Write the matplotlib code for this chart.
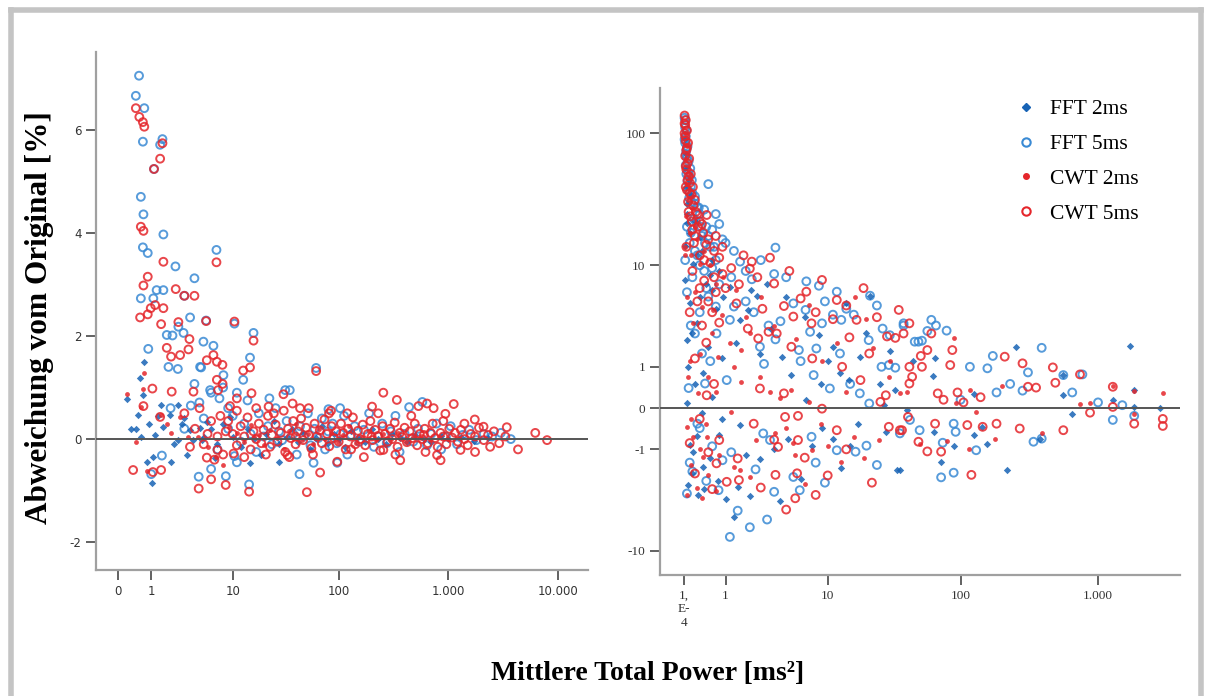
import numpy as np
import matplotlib
matplotlib.use("Agg")
import matplotlib.pyplot as plt
from matplotlib.lines import Line2D

# ---- data: (Mittlere Total Power, Abweichung) pairs ----
# left panel: linear y in %
left_fft5 = [
    (0.55, 7.05), (0.45, 6.66), (0.73, 6.42), (0.68, 5.77), (1.53, 5.82), (1.41, 5.71),
    (1.12, 5.24), (0.61, 4.70), (0.70, 4.36), (1.58, 3.97), (0.68, 3.72), (0.86, 3.61),
    (6.83, 3.67), (2.32, 3.35), (3.94, 3.12), (1.24, 2.89), (1.58, 2.89), (1.09, 2.73),
    (0.61, 2.73), (3.0, 2.78), (3.51, 2.36), (10.4, 2.24), (16, 2.06), (1.77, 2.02),
    (2.12, 2.01), (2.53, 2.18), (2.93, 2.06), (4.96, 1.89), (6.35, 1.81), (14.8, 1.58),
    (12.7, 1.15), (4.56, 1.40), (1.87, 1.40), (2.49, 1.36), (0.88, 1.75), (5.3, 2.30),
    (4.68, 1.39), (8.06, 1.24), (3.94, 1.07), (5.86, 0.95), (7.34, 0.79), (11, 0.90),
    (22.7, 0.79), (32, 0.95), (35.3, 0.95), (62, 1.38), (80.6, 0.58), (103, 0.60),
    (3.58, 0.65), (4.48, 0.71), (1.5, -0.32), (4.4, -0.73), (6, -0.58), (8.53, -0.72),
    (14.5, -0.88), (10.4, -0.33), (43.5, -0.68), (58.7, -0.46), (97, -0.46), (1.0, -0.68),
    (5, 0.4), (7, -0.2), (9, 0.6), (11, -0.45), (14, 0.75), (3, 0.2), (2, 0.6), (6, 0.9),
    (8, 1.0),
    (9, 0.2), (10, 0.45), (12, -0.05), (13, 0.3), (15, 0.1), (17, -0.25), (18, 0.5),
    (20, 0.05), (22, 0.25), (24, -0.1), (26, 0.6), (28, 0.15), (30, -0.02), (33, 0.35),
    (38, 0.1), (41, -0.3), (44, 0.25), (48, 0.05), (52, 0.5), (55, -0.12), (60, 0.2),
    (65, 0.02), (70, 0.4), (75, -0.2), (80, 0.15), (88, 0.3), (96, -0.08), (104, 0.1),
    (112, 0.45), (120, -0.3), (130, 0.08), (140, 0.25), (155, -0.05), (170, 0.18),
    (190, 0.5), (210, -0.15), (230, 0.05), (250, 0.3), (275, -0.08), (300, 0.15),
    (330, 0.45), (360, -0.25), (400, 0.1), (440, 0.62), (480, -0.05), (530, 0.2),
    (580, 0.72), (640, -0.12), (700, 0.1), (780, 0.3), (860, -0.2), (950, 0.05),
    (1050, 0.25), (1200, -0.1), (1350, 0.08), (1550, 0.18), (1800, -0.02), (2100, 0.1),
    (2500, 0.05), (3000, 0.12), (3700, 0.0),
]
left_cwt5 = [
    (0.45, 6.42), (0.56, 6.25), (0.68, 6.15), (0.73, 6.06), (1.53, 5.74), (1.41, 5.44),
    (1.12, 5.24), (0.61, 4.12), (0.70, 4.04), (6.83, 3.43), (1.58, 3.44), (0.86, 3.15),
    (0.70, 2.98), (2.34, 2.91), (3.0, 2.78), (3.94, 2.78), (1.17, 2.60), (0.98, 2.54),
    (0.86, 2.42), (0.585, 2.36), (1.58, 2.54), (1.46, 2.23), (2.53, 2.27), (5.31, 2.29),
    (10.4, 2.28), (16, 1.91), (3.45, 1.94), (1.77, 1.77), (2.03, 1.60), (2.66, 1.63),
    (3.36, 1.74), (5.4, 1.53), (6.35, 1.63), (6.9, 1.50), (7.87, 1.44), (12.7, 1.33),
    (62, 1.32), (3.84, 0.92), (6.9, 1.15), (7.9, 1.07), (7.1, 0.95), (14.8, 1.39),
    (15.3, 0.89), (11, 0.79), (2.07, 0.92), (1.05, 0.98), (0.7, 0.64), (1.41, 0.43),
    (9.4, 0.64), (22.3, 0.63), (30.8, 0.87), (37.5, 0.69), (52.9, 0.6), (81.6, 0.5),
    (1.46, -0.6), (4.4, -0.96), (6, -0.78), (8.5, -0.89), (14.5, -1.02), (5.4, -0.36),
    (7.0, -0.21), (10.2, -0.28), (33.6, -0.31), (50.9, -1.03), (67.5, -0.65), (97, -0.44),
    (1.07, -0.64), (0.37, -0.6),
    (256, 0.90), (340, 0.76), (640, 0.69), (1120, 0.68), (202, 0.63), (535, 0.64),
    (735, 0.60), (940, 0.49), (1740, 0.38), (2090, 0.24), (3400, 0.23), (6170, 0.12),
    (7900, -0.02), (4300, -0.2), (1750, -0.25), (1290, -0.21), (850, -0.41), (790, -0.31),
    (365, -0.41), (256, -0.21),
    (3, 0.5), (4, 0.2), (5, -0.1), (6, 0.35), (7, 0.05), (8, -0.3), (3.5, -0.15),
    (4.5, 0.6), (5.5, 0.1), (6.5, -0.4), (7.5, 0.45), (8.5, 0.15), (11, 0.55), (13, -0.35),
    (17, 0.6), (21, -0.3), (25, 0.5), (35, -0.35), (44, 0.6), (58, -0.3), (85, 0.55),
    (120, 0.5), (170, -0.35), (230, 0.5), (330, -0.3), (460, 0.45), (620, -0.25),
    (900, 0.35), (1400, 0.3), (2400, -0.15), (200, 0.05), (600, 0.08), (40, 0.05),
    (130, -0.2),
    (9, 0.35), (10, 0.1), (11, -0.12), (12, 0.25), (13, 0.05), (14, 0.42), (15, -0.2),
    (16, 0.15), (17, 0.0), (18, 0.3), (19, -0.08), (20, 0.18), (22, 0.45), (23, -0.15),
    (24, 0.08), (26, 0.28), (27, -0.05), (29, 0.12), (31, 0.55), (32, -0.25), (34, 0.2),
    (36, 0.02), (38, 0.35), (40, -0.1), (42, 0.15), (45, 0.4), (47, -0.02), (50, 0.22),
    (53, 0.08), (56, -0.18), (60, 0.3), (63, 0.05), (67, 0.17), (70, -0.08), (74, 0.38),
    (78, 0.1), (82, -0.14), (86, 0.25), (90, 0.02), (95, 0.15), (100, -0.05), (105, 0.3),
    (110, 0.12), (116, -0.2), (122, 0.2), (128, 0.05), (135, 0.42), (142, -0.1),
    (150, 0.16), (158, 0.0), (166, 0.28), (175, -0.12), (185, 0.1), (195, 0.35),
    (205, -0.02), (215, 0.18), (228, 0.06), (240, -0.22), (252, 0.25), (265, 0.1),
    (280, -0.05), (295, 0.2), (310, 0.0), (325, 0.32), (345, -0.15), (362, 0.12),
    (380, 0.04), (400, 0.22), (420, -0.06), (445, 0.15), (470, 0.02), (495, 0.3),
    (520, -0.12), (550, 0.1), (580, 0.0), (610, 0.2), (650, -0.08), (690, 0.12),
    (720, 0.3), (760, 0.02), (800, -0.15), (850, 0.12), (900, 0.05), (960, -0.1),
    (1020, 0.2), (1080, 0.03), (1150, 0.12), (1220, -0.05), (1300, 0.18), (1400, 0.0),
    (1500, -0.12), (1600, 0.1), (1750, 0.05), (1900, 0.22), (2100, -0.02), (2300, 0.08),
    (2600, 0.15), (2900, -0.08), (3300, 0.05),
]
left_fft2 = [
    (0.215, 0.78), (0.73, 1.50), (0.585, 1.18), (0.7, 0.85), (0.53, 0.47), (0.45, 0.19),
    (1.46, 0.66), (2.49, 0.67), (1.58, 0.24), (1.17, 0.08), (1.09, -0.34), (0.85, -0.45),
    (1.05, -0.85), (2.53, -0.02), (3.84, -0.02), (4.56, 0.21), (6.6, -0.37), (14.8, -0.46),
    (4.77, -0.02), (9.4, 0.43), (5.4, 0.34), (28, -0.44), (2.8, 0.3), (1.97, 0.47),
    (3.51, 0.17), (0.3, 0.2), (0.6, 0.05), (0.9, 0.3), (1.3, 0.45), (2.2, -0.1), (3, 0.4),
    (5, 0.05), (6, 0.2), (7, -0.1), (8, 0.3), (3.2, -0.3), (2, -0.45),
    (10, 0.05), (12, -0.15), (14, 0.2), (16, 0.0), (19, -0.3), (21, 0.1),
    (25, 0.35), (28, -0.1), (33, 0.05), (37, 0.2), (42, -0.05), (47, 0.12), (55, -0.2),
    (62, 0.02), (70, 0.25), (80, -0.08), (90, 0.1), (100, 0.0), (115, -0.15), (130, 0.15),
    (150, 0.05), (175, -0.05), (200, 0.2), (230, 0.0), (270, -0.1), (310, 0.1),
    (360, 0.02), (420, -0.05), (500, 0.08), (600, 0.0), (700, -0.05), (850, 0.06),
    (1000, 0.0), (1300, 0.04), (1700, -0.03), (2300, 0.02),
]
left_cwt2 = [
    (0.215, 0.87), (0.73, 1.28), (0.7, 0.98), (0.46, -0.05), (0.85, -0.62), (0.61, 0.63),
    (1.44, 0.47), (1.77, 0.3), (2.66, 0.43), (3.3, 0.04), (4.3, 0.04), (6.8, -0.34),
    (7.9, -0.5), (5.6, -0.15), (2.03, 0.12), (9.1, 0.24), (16, 0.04),
    (11, 0.12), (13, -0.05), (15, 0.28), (18, 0.08), (20, -0.12), (23, 0.18), (27, 0.02),
    (31, -0.2), (35, 0.15), (40, 0.3), (46, -0.02), (52, 0.1), (58, -0.1), (66, 0.2),
    (75, 0.0), (85, 0.12), (98, -0.05), (110, 0.08), (125, 0.25), (145, -0.08),
    (165, 0.05), (190, 0.15), (220, -0.02), (255, 0.1), (300, 0.0), (350, 0.12),
    (410, -0.05), (480, 0.05), (560, 0.02), (680, -0.02), (820, 0.05), (1000, 0.0),
    (1250, 0.03),
]

# right panel: signed log y
right_fft5 = [
    (0.01, 130), (0.02, 110), (0.03, 95), (0.02, 85), (0.04, 75), (0.05, 66), (0.03, 58),
    (0.07, 52), (0.1, 48), (0.06, 44), (0.12, 40), (0.5, 42), (0.15, 36), (0.09, 33),
    (0.2, 30), (0.25, 28), (0.4, 27), (0.3, 25), (0.7, 25), (0.18, 23), (0.8, 21),
    (0.45, 20), (0.6, 19), (0.35, 17), (0.9, 16), (1.0, 15), (0.55, 14), (1.3, 13),
    (0.25, 12), (0.7, 11), (1.55, 10.7), (3.6, 13.8), (2.1, 7.7), (3.5, 8.5), (6.7, 7.4),
    (1.2, 8), (0.4, 9), (0.8, 7), (0.05, 20), (0.1, 15), (0.02, 11),
    (0.02, 125), (0.04, 105), (0.01, 90), (0.06, 80), (0.03, 70), (0.08, 62), (0.11, 55),
    (0.04, 50), (0.14, 45), (0.07, 38), (0.2, 34), (0.13, 31), (0.28, 28), (0.22, 22),
    (0.33, 20), (0.12, 18), (0.5, 17), (0.42, 15), (0.65, 14), (0.2, 13), (0.3, 10),
    (0.6, 9.5), (0.15, 8), (0.05, 6), (0.45, 6.5), (0.7, 4.5), (0.12, 3), (0.35, 1.5),
    (0.55, 1.2), (0.08, 0.4), (0.25, -0.3), (0.6, -0.9), (0.15, -1.9), (0.45, -2.4),
    (0.05, -3.2), (0.9, -1.4),
    (1.8, 9), (2.6, 11), (4.5, 8), (8.5, 6.8), (1.3, 4.5), (2.2, 4.0), (4.0, 3.3),
    (7.2, 2.6), (9.5, 5.0), (16, 3.8), (24, 4.6), (30, 2.4), (2.8, 1.1), (6, 1.2),
    (15, 0.5), (1.2, -1.1), (2.3, -1.8), (8, -1.5), (9.5, -2.5), (24, -1.6), (3, -5.5),
    (2, -6.4),
    (11.8, 6.06), (21.3, 5.6), (5.2, 4.8), (14, 4.3), (26.5, 2.8), (38, 3.15), (49, 2.05),
    (6.6, 4.2), (9, 3.15), (12.8, 3.4), (20.8, 2.13), (11, 3.8), (3.6, 2.17), (3.1, 3.0),
    (5.8, 1.65), (8.1, 1.72), (12.5, 1.5), (2.55, 1.8), (1.15, 3.4), (0.72, 2.5),
    (0.42, 0.51), (1.04, 0.6), (7.7, 0.74), (10.4, 0.39), (17.8, 0.28), (21, 0.08),
    (26, 1.0), (29.5, 1.06), (33, 0.97), (0.3, 4), (0.5, 5.5), (0.2, 2.5), (1.8, 5),
    (2.75, -0.53), (3.2, -0.71), (7.4, -0.62), (11.8, -1.03), (16.5, -1.08), (20, -0.88),
    (0.78, -2.97), (1.15, -7.7), (1.45, -4.6), (3.5, -3.08), (5.9, -2.97), (5.2, -2.18),
    (35.7, -0.53), (42.4, -0.22), (0.3, -0.4), (0.1, -1.5),
    (46, 2.05), (38, 3.0), (61, 3.4), (66, 3.0), (79, 2.67), (57, 2.65), (52, 2.1),
    (390, 1.75), (172, 1.4), (117, 1.0), (157, 0.95), (310, 0.82), (560, 0.74), (770, 0.76),
    (183, 0.3), (283, 0.34), (89, -0.3), (92, -0.49), (74, -0.79), (130, -1.03), (72, -2.2),
    (89, -1.96), (340, -0.76), (390, -0.67), (1280, -0.22), (1830, -0.14), (50, -0.45),
    (100, 0.15), (230, 0.5), (650, 0.3), (1000, 0.1), (1500, 0.05),
]
right_cwt5 = [
    (0.01, 135), (0.02, 115), (0.01, 100), (0.03, 88), (0.05, 78), (0.02, 68), (0.06, 60),
    (0.04, 54), (0.08, 48), (0.1, 43), (0.05, 38), (0.13, 35), (0.07, 31), (0.17, 29),
    (0.22, 26), (0.11, 24), (0.3, 22), (0.26, 20), (0.38, 18), (0.2, 17), (0.5, 16),
    (0.45, 14.5), (0.65, 13), (0.3, 12), (0.8, 11.5), (0.55, 10.5), (1.2, 9.5), (0.9, 8.5),
    (2.0, 9.4), (0.4, 7.5), (1.5, 7), (0.7, 6), (0.25, 5), (0.6, 4), (0.35, 3),
    (0.46, 24.6), (0.03, 40), (0.08, 26), (0.15, 19), (0.04, 14),
    (0.03, 125), (0.01, 118), (0.05, 105), (0.02, 95), (0.07, 85), (0.04, 75), (0.09, 65),
    (0.03, 57), (0.12, 50), (0.06, 45), (0.16, 40), (0.1, 36), (0.2, 32), (0.25, 25),
    (0.14, 22), (0.35, 21), (0.18, 15), (0.7, 17), (0.9, 14), (0.4, 11), (0.15, 9),
    (0.65, 8), (1.0, 6.5), (0.3, 6.5), (0.5, 5), (0.1, 4), (0.8, 3.2), (0.45, 2.0),
    (0.2, 1.3), (0.65, 0.5), (0.3, -0.2), (0.1, -0.8), (0.5, -1.1), (0.2, -2.0), (0.6, -2.9),
    (1.7, 12), (2.4, 8), (3.2, 11.5), (4.8, 9), (9, 7.6), (1.4, 4.8), (2.7, 4.3), (6, 5.3),
    (8, 4.0), (14, 4.6), (19, 6.5), (24, 3.6), (35, 4.2), (1.9, 2.8), (5, 1.8), (7.5, 1.3),
    (13, 1.0), (18, 0.6), (3.5, -0.7), (6.5, -1.3), (10, -2.1), (14, -1.0), (22, -2.5),
    (2.6, -2.8), (4.5, -4.5), (8, -3.3),
    (2.1, 10.7), (3.5, 7.1), (6.7, 6.06), (11.8, 5.14), (4.3, 4.55), (5.2, 3.65),
    (7.4, 3.15), (16.8, 3.4), (3.1, 2.6), (3.7, 2.5), (2.45, 2.22), (11, 3.45),
    (14.8, 2.28), (21, 1.5), (28.6, 2.33), (33, 2.25), (42, 3.15), (2.55, 0.39),
    (4.3, 0.28), (5.7, -0.14), (4.4, -0.16), (9, -0.01), (1.45, -1.33), (0.72, -1.53),
    (1.04, -2.45), (1.5, -2.35), (3.6, -2.07), (5.4, -3.55), (5.6, -1.99), (5.7, -0.71),
    (3.8, -0.92), (2.2, -0.3), (0.8, -0.71), (11.8, -0.45), (29.5, -0.37), (41, -0.16),
    (35.7, -0.45), (28, 0.24), (25.5, 0.11), (44, 0.69), (42, 1.0), (0.46, 0.24),
    (38, 2.5), (61, 2.5), (57, 1.65), (51, 1.4), (52, 1.0), (87, 1.65), (84, 1.06),
    (210, 1.37), (283, 1.12), (470, 0.98), (490, 0.53), (740, 0.76), (310, 0.43),
    (355, 0.41), (42, 0.51), (68, 0.28), (37, -0.45), (65, -0.3), (112, -0.33),
    (145, -0.37), (183, -0.3), (270, -0.41), (560, -0.45), (875, -0.08), (1280, 0.02),
    (1830, -0.3), (1280, 0.43), (57, -1.07), (72, -1.08), (120, -2.07), (49, -0.76),
    (75, 0.15), (95, 0.3), (105, 0.1), (140, 0.2), (2950, -0.2), (2950, -0.35),
]
right_fft2 = [
    (0.05, 2.13), (0.02, 7.6), (0.1, 4.8), (0.24, 3.15), (0.07, 1.0), (0.38, 0.79),
    (0.1, -0.86), (0.17, -1.08), (0.07, -2.64), (0.27, -3.3), (0.38, -1.68), (0.8, -0.57),
    (1.55, -0.33), (2.55, -1.37), (4.7, -0.69), (7.4, -0.89), (12.8, -1.73), (11, -0.69),
    (17.2, -0.3), (34, -1.84), (1.3, -5.2), (2.0, -3.4), (1.45, -2.75), (1.55, 3.4),
    (0.59, 6.27), (0.93, 5.5), (2.05, 6.27), (1.15, 6.6), (2.4, 5.6), (1.4, 2.0),
    (2.55, 1.5), (5, 0.74), (8.9, 0.51), (6.7, 0.14), (12.5, 0.79), (14.6, 0.6),
    (17.8, 1.37), (21.3, 5.6), (14, 4.8), (11, 1.8), (4.1, 1.37), (25.3, 0.51), (33, 0.35),
    (27, 0.05), (40, -0.03), (0.31, 16.8), (0.05, 21.2), (0.02, 14.2), (0.17, 10.3),
    (0.54, 8.3), (0.05, 0.08), (0.34, -0.09), (0.03, 40), (0.06, 30),
    (0.01, 90), (0.04, 70), (0.02, 55), (0.08, 45), (0.12, 35), (0.06, 25), (0.2, 22),
    (0.1, 18), (0.35, 13), (0.25, 12), (0.6, 11), (0.45, 7), (0.8, 9), (0.3, 5.5),
    (0.7, 4.3), (0.15, 2.5), (0.5, 1.8), (0.9, 1.3), (0.2, 0.5), (0.6, 0.2), (0.9, -0.2),
    (0.25, -0.6), (0.55, -1.3), (0.15, -2.0), (0.75, -2.4), (0.4, -2.9), (1.0, -3.6),
    (1.9, 4.2), (3, 7), (4.5, 5.5), (6.5, 3.6), (8.5, 2.4), (3.3, 2.8), (10, 1.2),
    (20, 2.5), (30, 1.6), (45, 1.2), (3.5, -1.0), (6, -2.3), (9, -0.4), (15, -0.9),
    (28, -0.5), (1.8, -1.2), (4, -3.8),
    (255, 1.8), (65, 1.3), (560, 0.74), (560, 0.24), (63, 0.71), (125, 0.27), (1280, 0.14),
    (1830, 0.02), (1830, 0.35), (650, -0.11), (64, -0.49), (125, -0.57), (143, -0.37),
    (89, -0.89), (155, -0.83), (72, -1.47), (379, -0.67), (35.7, -1.84), (220, -1.84),
    (1700, 1.83), (2800, 0.0),
]
right_cwt2 = [
    (0.01, 12.1), (0.05, 5.5), (0.17, 3.15), (0.07, 0.69), (0.13, -0.21), (0.05, -0.37),
    (0.17, -0.62), (0.05, -3.3), (0.24, -2.86), (0.38, -1.27), (0.46, -0.62), (0.27, 0.28),
    (0.5, 0.69), (0.77, 1.37), (1.15, 2.0), (1.6, 1.65), (2.0, 2.5), (2.55, 0.69),
    (3.2, 0.32), (3.96, 0.18), (5, 0.35), (7, 0.11), (8.9, -0.3), (5.4, -1.2), (5.2, -0.81),
    (12.8, -1.47), (16.2, -0.62), (16.3, 5.5), (11.8, 2.0), (22.4, 1.72), (25, -0.71),
    (1.55, -1.84), (2, -2.18), (1.3, -1.68), (1.4, 6.27), (0.63, 4.19), (0.93, 8.1),
    (0.31, 10.3), (0.1, 17.8), (0.07, 32), (0.1, 50), (0.02, 14), (1.6, 0.55), (1.2, -0.06),
    (3.6, -0.53), (7.4, -1.03), (40, 0.32), (29.5, 0.69),
    (0.02, 100), (0.05, 80), (0.03, 65), (0.06, 42), (0.15, 28), (0.2, 20), (0.04, 24),
    (0.25, 16), (0.4, 13), (0.12, 12), (0.55, 10), (0.7, 7), (0.2, 6), (0.35, 4.5),
    (0.9, 3.8), (0.6, 2.5), (0.3, 1.5), (0.1, 1.2), (0.7, 0.3), (0.45, -0.3), (0.3, -1.0),
    (0.8, -1.2), (0.12, -1.6), (0.5, -2.1), (0.35, -3.5), (0.7, -3.0),
    (1.8, 3.6), (2.6, 5.5), (3.5, 3.0), (5.5, 2.2), (7, 4.6), (9, 1.2), (1.3, 1.0),
    (4.5, -0.4), (6.5, -2.6), (10, -0.9), (19, -1.3), (14, 0.3), (20, 3.5), (30, 1.2),
    (2.3, -0.7),
    (89, 2.25), (117, 0.35), (200, 0.45), (1280, 0.45), (1830, 0.34), (740, 0.07),
    (875, 0.08), (390, -0.51), (177, -0.67), (50, -0.84), (115, -1.0), (79, -0.74),
    (130, -0.06), (93, 0.08), (1830, -0.11), (35.7, 0.28), (2950, 0.28),
]

left_xticks = [0, 1, 10, 100, 1000, 10000]
left_xlabels = ["0", "1", "10", "100", "1.000", "10.000"]
left_yticks = [-2, 0, 2, 4, 6]
right_xticks = [0.0001, 1, 10, 100, 1000]
right_xlabels = ["1,\nE-\n4", "1", "10", "100", "1.000"]
right_yticks = [-10, -1, 0, 1, 10, 100]
right_ylabels = ["-10", "-1", "0", "1", "10", "100"]

BLUE_DOT = "#1763b5"
BLUE_RING = "#3a8ad4"
RED = "#e5262b"
GREY = "#a0a0a0"


def logp1(v):
    return np.log10(np.maximum(np.asarray(v, float), -0.999) + 1)


def inv_logp1(t):
    return 10 ** np.asarray(t, float) - 1


def slog(v):
    v = np.asarray(v, float)
    return np.sign(v) * np.log10(np.abs(v) + 1)


def inv_slog(t):
    t = np.asarray(t, float)
    return np.sign(t) * (10 ** np.abs(t) - 1)


def draw_series(ax, fft5, fft2, cwt5, cwt2):
    for pts, kw in [
        (fft5, dict(marker="o", s=32, facecolors="none", edgecolors=BLUE_RING, linewidths=1.4)),
        (fft2, dict(marker="D", s=14, color=BLUE_DOT, linewidths=0)),
        (cwt5, dict(marker="o", s=32, facecolors="none", edgecolors=RED, linewidths=1.4)),
        (cwt2, dict(marker="o", s=12, color=RED, linewidths=0)),
    ]:
        a = np.array(pts)
        ax.scatter(a[:, 0], a[:, 1], alpha=0.85, zorder=3, **kw)


def style_axes(ax):
    for side in ("top", "right"):
        ax.spines[side].set_visible(False)
    for side in ("left", "bottom"):
        ax.spines[side].set_color(GREY)
        ax.spines[side].set_linewidth(1.6)
    ax.tick_params(colors="#555555", labelcolor="#333333", length=7, width=1.3,
                   labelsize=8.5)
    ax.minorticks_off()
    ax.axhline(0, color="#555555", lw=1.4, zorder=4)


fig = plt.figure(figsize=(12.06, 6.96), dpi=100)

# left panel
ax1 = fig.add_axes([96 / 1206, 1 - 570 / 696, 492 / 1206, 518 / 696])
ax1.set_xscale("function", functions=(logp1, inv_logp1))
draw_series(ax1, left_fft5, left_fft2, left_cwt5, left_cwt2)
style_axes(ax1)
ax1.set_xlim(-0.37, 18600)
ax1.set_ylim(-2.54, 7.51)
ax1.set_xticks(left_xticks)
ax1.set_xticklabels(left_xlabels)
ax1.set_yticks(left_yticks)
ax1.set_yticklabels([str(t) for t in left_yticks])

# right panel
ax2 = fig.add_axes([660 / 1206, 1 - 575 / 696, 520 / 1206, 487 / 696])
ax2.set_xscale("function", functions=(logp1, inv_logp1))
ax2.set_yscale("function", functions=(slog, inv_slog))
draw_series(ax2, right_fft5, right_fft2, right_cwt5, right_cwt2)
style_axes(ax2)
ax2.set_xlim(-0.33, 3930)
ax2.set_ylim(-15.5, 215)
ax2.set_xticks(right_xticks)
ax2.set_xticklabels(right_xlabels, family="Liberation Serif", fontsize=9.5)
ax2.set_yticks(right_yticks)
ax2.set_yticklabels(right_ylabels, family="Liberation Serif", fontsize=9.5)

handles = [
    Line2D([], [], ls="none", marker="D", ms=4, color=BLUE_DOT),
    Line2D([], [], ls="none", marker="o", ms=6, mfc="none", mec=BLUE_RING, mew=1.5),
    Line2D([], [], ls="none", marker="o", ms=4, color=RED),
    Line2D([], [], ls="none", marker="o", ms=6, mfc="none", mec=RED, mew=1.5),
]
fig.legend(handles, ["FFT 2ms", "FFT 5ms", "CWT 2ms", "CWT 5ms"],
           loc="upper left", bbox_to_anchor=(994 / 1206, 1 - 80 / 696),
           frameon=False, prop={"family": "Liberation Serif", "size": 15.5},
           labelspacing=0.68, handletextpad=0.5, handlelength=1.2)

fig.text(40 / 1206, 1 - 318 / 696, "Abweichung vom Original [%]", rotation=90,
         ha="center", va="center", family="Liberation Serif", weight="bold", fontsize=22.5)
fig.text(648 / 1206, 1 - 674 / 696, "Mittlere Total Power [ms²]", ha="center",
         va="center", family="Liberation Serif", weight="bold", fontsize=20)

# grey frame round the figure
for xs, ys in [((11, 11), (0, 686)), ((11, 1201), (686, 686)), ((1201, 1201), (0, 686))]:
    fig.add_artist(Line2D(np.array(xs) / 1206, np.array(ys) / 696, color="#c4c4c4", lw=4))

fig.savefig("out.png", dpi=100)
